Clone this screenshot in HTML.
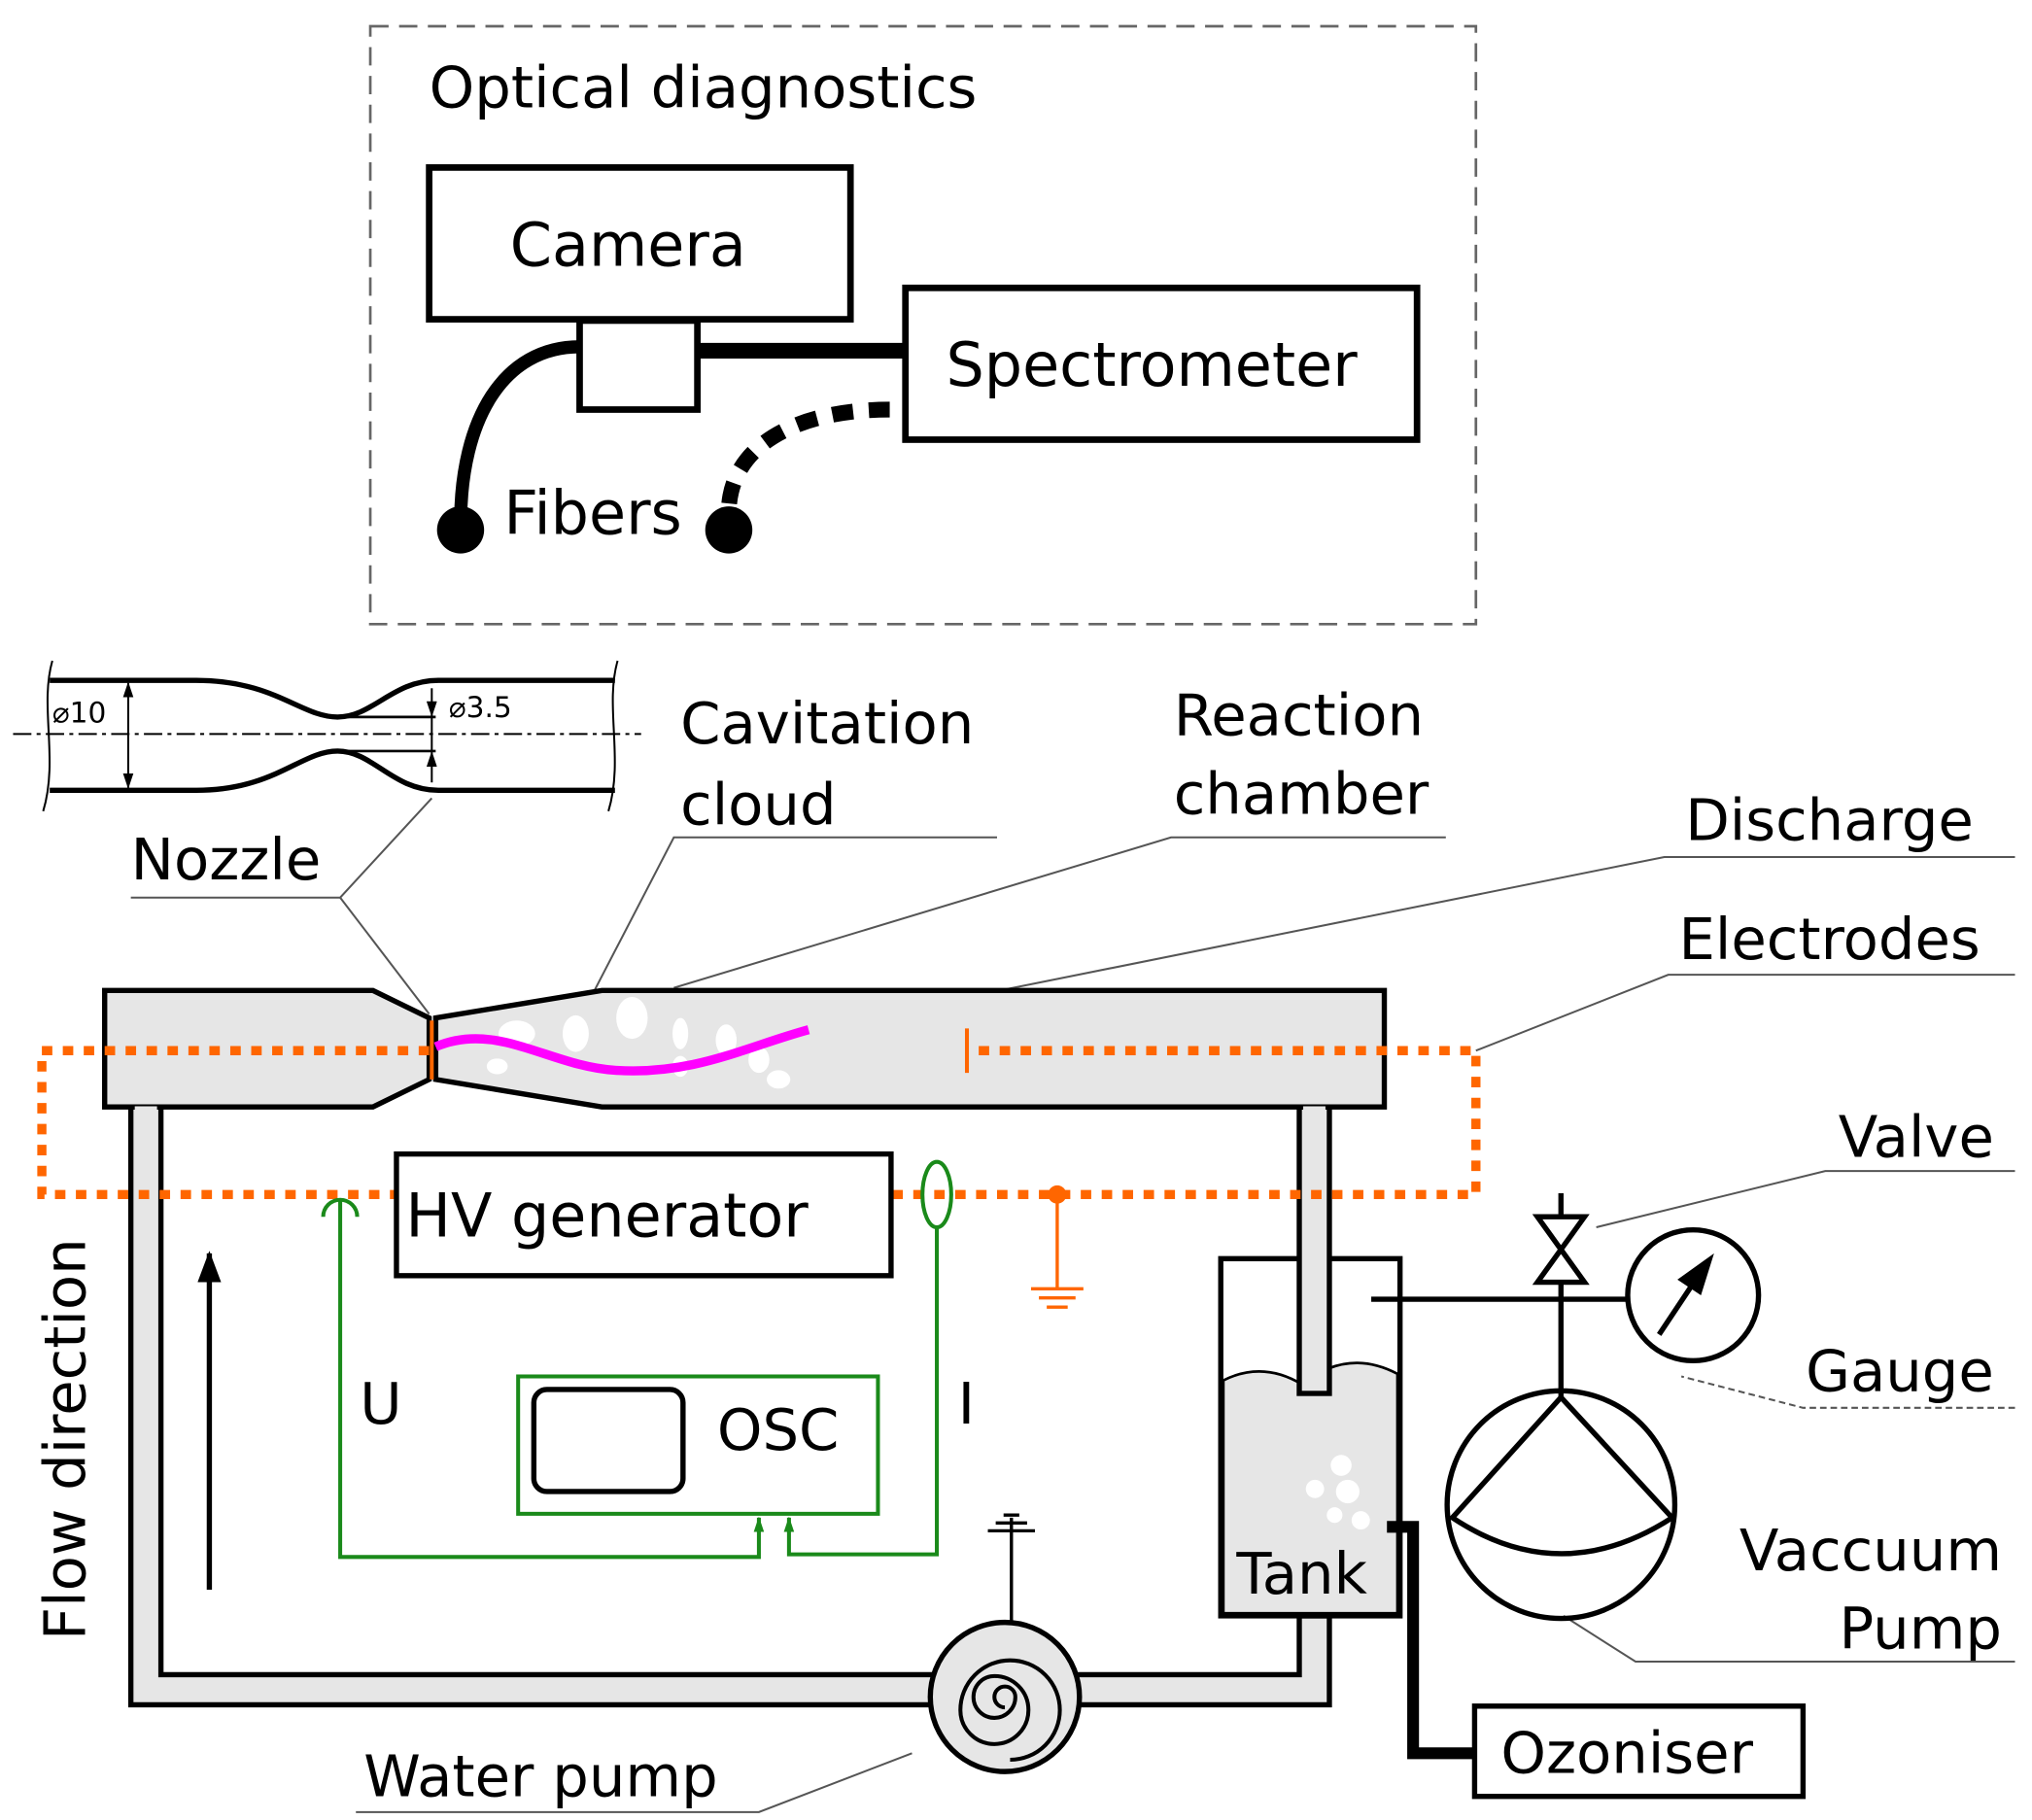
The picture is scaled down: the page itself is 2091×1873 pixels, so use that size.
<!DOCTYPE html>
<html><head><meta charset="utf-8"><style>
html,body{margin:0;padding:0;background:#fff;width:2091px;height:1873px;overflow:hidden}
svg{display:block}
text{font-family:"DejaVu Sans","Liberation Sans",sans-serif;fill:#000}
</style></head><body>
<svg width="2091" height="1873" viewBox="0 0 1553 1391" xmlns="http://www.w3.org/2000/svg">
<defs>
<marker id="ga" markerWidth="12" markerHeight="8" refX="11" refY="4" orient="auto" markerUnits="userSpaceOnUse"><path d="M0,0 L12,4 L0,8 Z" fill="#1a8a1a"/></marker>
<marker id="ka" markerWidth="12" markerHeight="8" refX="11" refY="4" orient="auto-start-reverse" markerUnits="userSpaceOnUse"><path d="M0,0 L12,4 L0,8 Z" fill="#000"/></marker>
<marker id="kb" markerWidth="24" markerHeight="18" refX="22" refY="9" orient="auto" markerUnits="userSpaceOnUse"><path d="M0,0 L24,9 L0,18 Z" fill="#000"/></marker>
</defs>
<!-- Optical diagnostics -->
<rect x="283" y="20" width="845" height="457" fill="none" stroke="#666" stroke-width="2" stroke-dasharray="14,8"/>
<text x="328" y="82" font-size="44">Optical diagnostics</text>
<rect x="328" y="128" width="322" height="116" fill="#fff" stroke="#000" stroke-width="5"/>
<text x="480" y="203" font-size="46" text-anchor="middle">Camera</text>
<rect x="443" y="245" width="90" height="68" fill="#fff" stroke="#000" stroke-width="5"/>
<line x1="533" y1="268" x2="692" y2="268" stroke="#000" stroke-width="12"/>
<rect x="692" y="220" width="391" height="116" fill="#fff" stroke="#000" stroke-width="5"/>
<text x="723" y="295" font-size="46">Spectrometer</text>
<path d="M443,265 C385,265 352,320 352,400" fill="none" stroke="#000" stroke-width="10"/>
<circle cx="352" cy="405" r="18"/>
<text x="385" y="408" font-size="46">Fibers</text>
<path d="M680,313 C610,313 555,340 557,395" fill="none" stroke="#000" stroke-width="12" stroke-dasharray="16,12"/>
<circle cx="557" cy="405" r="18"/>
<!-- nozzle inset -->
<line x1="10" y1="561" x2="490" y2="561" stroke="#000" stroke-width="1.5" stroke-dasharray="14,4,3,4"/>
<path d="M38,520 L150,520 C210,520 230,548 258,548 C285,548 300,520 335,520 L470,520" fill="none" stroke="#000" stroke-width="4"/>
<path d="M38,604 L150,604 C210,604 230,574 258,574 C285,574 300,604 335,604 L470,604" fill="none" stroke="#000" stroke-width="4"/>
<line x1="258" y1="548" x2="333" y2="548" stroke="#000" stroke-width="2"/>
<line x1="258" y1="574" x2="333" y2="574" stroke="#000" stroke-width="2"/>
<path d="M40,505 C30,540 45,580 33,620" fill="none" stroke="#000" stroke-width="1.5"/>
<path d="M472,505 C462,540 477,580 465,620" fill="none" stroke="#000" stroke-width="1.5"/>
<line x1="98" y1="522" x2="98" y2="602" stroke="#000" stroke-width="1.5" marker-start="url(#ka)" marker-end="url(#ka)"/>
<text x="40" y="552" font-size="22">⌀10</text>
<line x1="330" y1="526" x2="330" y2="547" stroke="#000" stroke-width="1.5" marker-end="url(#ka)"/>
<line x1="330" y1="598" x2="330" y2="575" stroke="#000" stroke-width="1.5" marker-end="url(#ka)"/>
<line x1="330" y1="547" x2="330" y2="575" stroke="#000" stroke-width="1.5"/>
<text x="343" y="548" font-size="22">⌀3.5</text>
<!-- labels -->
<g stroke="#555" stroke-width="1.5" fill="none">
<path d="M100,686 L260,686 L330,610"/><path d="M260,686 L328,775"/>
<path d="M762,640 L515,640 L445,775"/>
<path d="M1105,640 L895,640 L515,755"/>
<path d="M1540,655 L1272,655 L600,790"/>
<path d="M1540,745 L1275,745 L1128,803"/>
<path d="M1540,895 L1395,895 L1220,938"/>
<path d="M1540,1076 L1378,1076 L1285,1052" stroke-dasharray="5,3"/>
<path d="M1540,1270 L1250,1270 L1195,1235"/>
<path d="M272,1385 L580,1385 L697,1340"/>
</g>
<g font-size="44">
<text x="520" y="568">Cavitation</text><text x="520" y="630">cloud</text>
<text x="897" y="562">Reaction</text><text x="897" y="622">chamber</text>
<text x="1288" y="642">Discharge</text>
<text x="1283" y="733">Electrodes</text>
<text x="1405" y="884">Valve</text>
<text x="1380" y="1063">Gauge</text>
<text x="1530" y="1200" text-anchor="end">Vaccuum</text>
<text x="1530" y="1260" text-anchor="end">Pump</text>
<text x="100" y="672">Nozzle</text>
<text x="278" y="1373">Water pump</text>
<text x="548" y="1108">OSC</text>
<text x="275" y="1088">U</text>
<text x="732" y="1088">I</text>
<text transform="translate(65,1100) rotate(-90)" text-anchor="middle">Flow direction</text>
</g>
<!-- pipe loop -->
<path d="M100,846 L100,1303 L1016,1303 L1016,1235 L993,1235 L993,1280 L123,1280 L123,846 Z" fill="#e6e6e6" stroke="#000" stroke-width="4"/>
<!-- tank -->
<rect x="933" y="962" width="137" height="273" fill="#fff" stroke="#000" stroke-width="4"/>
<path d="M935,1055 Q965,1040 995,1058 Q1030,1030 1068,1050 L1068,1233 L935,1233 Z" fill="#e6e6e6" stroke="#000" stroke-width="2"/>
<text x="945" y="1218" font-size="44">Tank</text>
<g fill="#fff"><circle cx="1025" cy="1120" r="8"/><circle cx="1005" cy="1138" r="7"/><circle cx="1030" cy="1140" r="9"/><circle cx="1020" cy="1158" r="6"/><circle cx="1040" cy="1162" r="7"/></g>
<rect x="993" y="846" width="23" height="219" fill="#e6e6e6" stroke="#000" stroke-width="4"/>
<!-- chamber -->
<path d="M80,757 L285,757 L328,778 L328,825 L285,846 L80,846 Z" fill="#e6e6e6" stroke="#000" stroke-width="4"/>
<path d="M333,778 L460,757 L1058,757 L1058,846 L460,846 L333,825 Z" fill="#e6e6e6" stroke="#000" stroke-width="4"/>
<line x1="103" y1="848" x2="120" y2="848" stroke="#e6e6e6" stroke-width="5"/>
<line x1="996" y1="848" x2="1013" y2="848" stroke="#e6e6e6" stroke-width="5"/>
<g fill="#fff"><ellipse cx="395" cy="790" rx="14" ry="10"/><ellipse cx="440" cy="790" rx="10" ry="14"/><ellipse cx="483" cy="778" rx="12" ry="16"/><ellipse cx="520" cy="790" rx="6" ry="12"/><ellipse cx="555" cy="795" rx="8" ry="12"/><ellipse cx="580" cy="810" rx="8" ry="10"/><ellipse cx="595" cy="825" rx="9" ry="7"/><ellipse cx="520" cy="815" rx="6" ry="8"/><ellipse cx="380" cy="815" rx="8" ry="6"/></g>
<path d="M333,800 C380,780 420,815 470,818 C530,822 570,800 618,787" fill="none" stroke="#f0f" stroke-width="7"/>
<!-- orange circuit -->
<g stroke="#f60" stroke-width="7" fill="none" stroke-dasharray="8,8">
<path d="M328,803 L32,803 L32,913 L1128,913 L1128,803 L740,803"/>
</g>
<line x1="330" y1="780" x2="330" y2="825" stroke="#f60" stroke-width="3"/>
<line x1="739" y1="786" x2="739" y2="820" stroke="#f60" stroke-width="3"/>
<circle cx="808" cy="913" r="7" fill="#f60"/>
<g stroke="#f60" stroke-width="2.5"><line x1="808" y1="913" x2="808" y2="985"/><line x1="788" y1="985" x2="828" y2="985"/><line x1="794" y1="992" x2="822" y2="992"/><line x1="800" y1="999" x2="816" y2="999"/></g>
<!-- HV gen -->
<rect x="303" y="882" width="378" height="93" fill="#fff" stroke="#000" stroke-width="4"/>
<text x="310" y="945" font-size="46">HV generator</text>
<!-- green -->
<g stroke="#1a8a1a" stroke-width="3" fill="none">
<path d="M247,930 A13,13 0 0 1 273,930"/>
<path d="M260,917 L260,1190 L580,1190 L580,1160" marker-end="url(#ga)"/>
<ellipse cx="716" cy="913" rx="11" ry="25"/>
<path d="M716,938 L716,1188 L603,1188 L603,1160" marker-end="url(#ga)"/>
<rect x="396" y="1052" width="275" height="105"/>
</g>
<rect x="408" y="1062" width="114" height="78" rx="10" fill="none" stroke="#000" stroke-width="4"/>
<!-- flow arrow -->
<line x1="160" y1="1215" x2="160" y2="958" stroke="#000" stroke-width="4" marker-end="url(#kb)"/>
<!-- water pump -->
<g stroke="#000" stroke-width="2.5"><line x1="773" y1="1160" x2="773" y2="1240"/><line x1="755" y1="1170" x2="791" y2="1170"/><line x1="761" y1="1164" x2="785" y2="1164"/><line x1="767" y1="1158" x2="779" y2="1158"/></g>
<circle cx="768" cy="1297" r="57" fill="#e6e6e6" stroke="#000" stroke-width="4"/>
<path d="M768,1297 m0,8 a8,8 0 1 1 8,-8 a16,16 0 1 1 -16,-16 a26,26 0 1 1 -26,26 a38,38 0 1 1 38,38" fill="none" stroke="#000" stroke-width="3"/>
<!-- vacuum side -->
<g stroke="#000" stroke-width="4" fill="none">
<line x1="1048" y1="993" x2="1244" y2="993"/>
<line x1="1193" y1="912" x2="1193" y2="1068"/>
<path d="M1175,930 L1211,930 L1193,955 Z M1175,980 L1211,980 L1193,955 Z" fill="#fff"/>
<circle cx="1294" cy="990" r="50"/>
<circle cx="1193" cy="1150" r="87"/>
<path d="M1193,1068 L1110,1160 Q1193,1215 1278,1160 Z"/>
</g>
<path d="M1268,1020 L1300,972" stroke="#000" stroke-width="4"/>
<path d="M1310,958 L1282,978 L1300,990 Z"/>
<path d="M1060,1167 L1080,1167 L1080,1340 L1127,1340" fill="none" stroke="#000" stroke-width="9"/>
<rect x="1127" y="1304" width="251" height="69" fill="#fff" stroke="#000" stroke-width="4"/>
<text x="1147" y="1355" font-size="44">Ozoniser</text>
</svg>
</body></html>
